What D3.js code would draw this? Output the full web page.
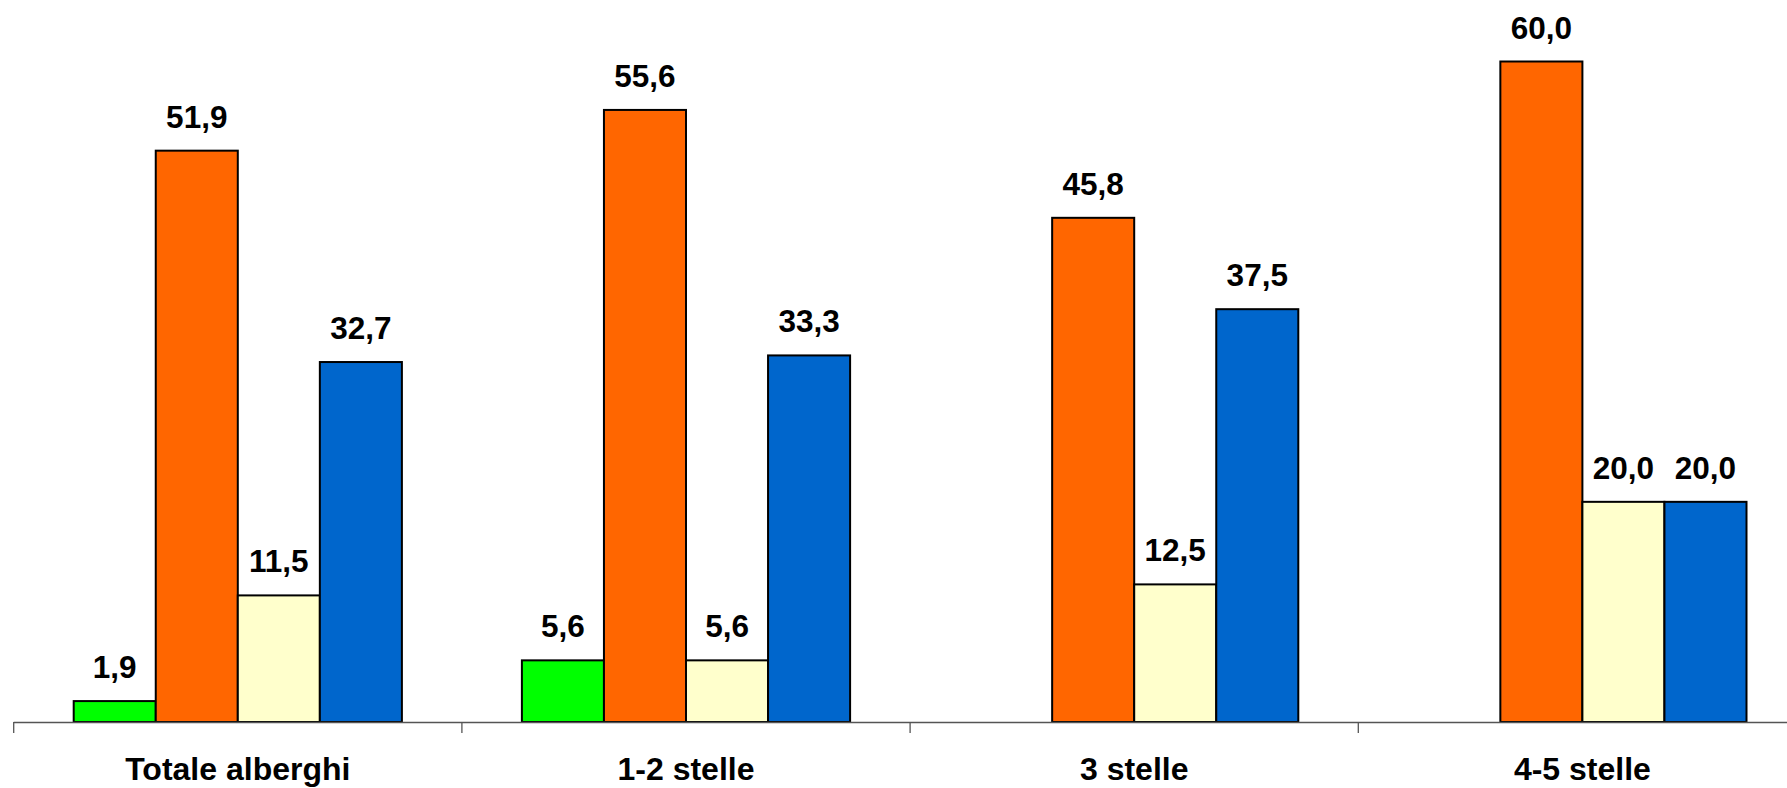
<!DOCTYPE html>
<html><head><meta charset="utf-8">
<script src="https://cdn.jsdelivr.net/npm/d3@7"></script>
<style>html,body{margin:0;padding:0;background:#fff;}svg{display:block;}</style>
</head><body>
<svg id="chart" width="1787" height="788"></svg>
<script>
const categories = ["Totale alberghi", "1-2 stelle", "3 stelle", "4-5 stelle"];
const seriesNames = ["Serie 1", "Serie 2", "Serie 3", "Serie 4"];
const serie1 = [1.9, 5.6, null, null];
const serie2 = [51.9, 55.6, 45.8, 60.0];
const serie3 = [11.5, 5.6, 12.5, 20.0];
const serie4 = [32.7, 33.3, 37.5, 20.0];
const colors = ["#00FF00", "#FF6600", "#FFFFCC", "#0066CC"];

const allSeries = [serie1, serie2, serie3, serie4];
const svg = d3.select("#chart");
const groupW = 448.2;
const x0 = d3.scaleBand().domain(categories).range([13.7, 13.7 + groupW * categories.length]).padding(0);
const x1 = d3.scaleBand().domain(seriesNames).range([60, groupW - 60]).padding(0);
const y = d3.scaleLinear().domain([0, 60]).range([722, 61.5]);
const fmt = v => d3.format(".1f")(v).replace(".", ",");

const rows = [];
categories.forEach((c, i) => {
  seriesNames.forEach((s, j) => {
    const v = allSeries[j][i];
    if (v != null) rows.push({c, s, v, color: colors[j]});
  });
});

svg.append("g").selectAll("rect").data(rows).join("rect")
  .attr("x", d => x0(d.c) + x1(d.s))
  .attr("y", d => y(d.v))
  .attr("width", x1.bandwidth())
  .attr("height", d => y(0) - y(d.v))
  .attr("fill", d => d.color)
  .attr("stroke", "#000")
  .attr("stroke-width", 2);

svg.append("g").selectAll("text").data(rows).join("text")
  .attr("x", d => x0(d.c) + x1(d.s) + x1.bandwidth() / 2)
  .attr("y", d => y(d.v) - 23)
  .attr("text-anchor", "middle")
  .attr("font-family", "Liberation Sans, Arial, sans-serif")
  .attr("font-weight", "bold")
  .attr("font-size", 31.5)
  .attr("fill", "#000")
  .text(d => fmt(d.v));

// axis
const ax = svg.append("g");
ax.append("line")
  .attr("x1", x0.range()[0]).attr("x2", 1787)
  .attr("y1", y(0) + 0.5).attr("y2", y(0) + 0.5)
  .attr("stroke", "#555").attr("stroke-width", 1.3);
const bounds = categories.map(c => x0(c)).concat([x0.range()[1]]);
ax.selectAll("line.tick").data(bounds).join("line")
  .attr("class", "tick")
  .attr("x1", d => d).attr("x2", d => d)
  .attr("y1", y(0)).attr("y2", y(0) + 11)
  .attr("stroke", "#555").attr("stroke-width", 1.3);
ax.selectAll("text").data(categories).join("text")
  .attr("x", d => x0(d) + x0.bandwidth() / 2)
  .attr("y", 780)
  .attr("text-anchor", "middle")
  .attr("font-family", "Liberation Sans, Arial, sans-serif")
  .attr("font-weight", "bold")
  .attr("font-size", 32)
  .attr("fill", "#000")
  .text(d => d);
</script>
</body></html>
